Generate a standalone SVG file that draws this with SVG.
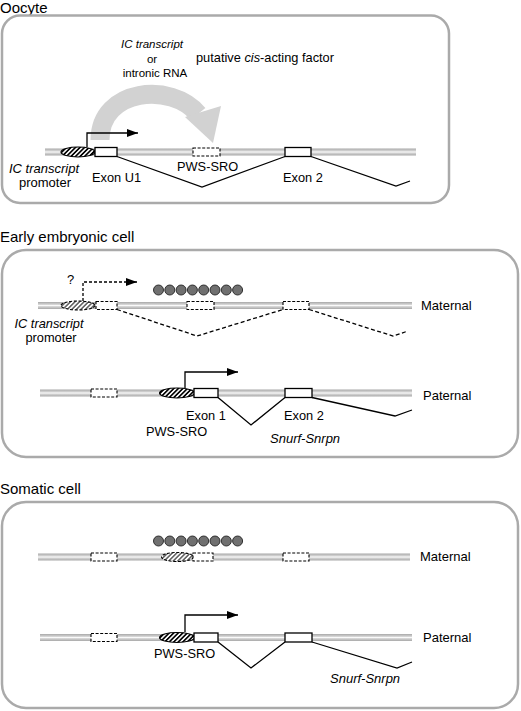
<svg xmlns="http://www.w3.org/2000/svg" width="521" height="711" viewBox="0 0 521 711">
<style>
text{font-family:"Liberation Sans",Arial,sans-serif;fill:#000}
.title{font-size:15px}
.lbl{font-size:12.8px}
.sm{font-size:11.5px}
.it{font-style:italic}
.panel{fill:#fff;stroke:#aaa;stroke-width:2.5}
.bar{fill:url(#barg)}
.exon{fill:#fff;stroke:#000;stroke-width:1.3}
.dbox{fill:#fff;stroke:#000;stroke-width:1.1;stroke-dasharray:3,1.6}
.hat{fill:url(#hatch);stroke:#000;stroke-width:1.2}
.dhat{fill:url(#hatch2);stroke:#000;stroke-width:1.1;stroke-dasharray:3,1.6}
.splice{fill:none;stroke:#000;stroke-width:1.3}
.dsplice{fill:none;stroke:#000;stroke-width:1.3;stroke-dasharray:4,2.5}
.tss{fill:none;stroke:#000;stroke-width:1.3;marker-end:url(#ah)}
.dtss{fill:none;stroke:#000;stroke-width:1.3;stroke-dasharray:3,2;marker-end:url(#ah)}
.met{fill:#707070;stroke:#222;stroke-width:0.9}
</style>
<defs>
<linearGradient id="barg" x1="0" y1="0" x2="0" y2="1">
<stop offset="0" stop-color="#a8a8a8"/>
<stop offset="0.35" stop-color="#d4d4d4"/>
<stop offset="0.5" stop-color="#fafafa"/>
<stop offset="0.65" stop-color="#d4d4d4"/>
<stop offset="1" stop-color="#a8a8a8"/>
</linearGradient>
<pattern id="hatch" patternUnits="userSpaceOnUse" width="3.2" height="3.2" patternTransform="rotate(45)">
<rect width="3.2" height="3.2" fill="#fff"/>
<line x1="0.8" y1="0" x2="0.8" y2="3.2" stroke="#000" stroke-width="1.7"/>
</pattern>
<pattern id="hatch2" patternUnits="userSpaceOnUse" width="3.2" height="3.2" patternTransform="rotate(45)">
<rect width="3.2" height="3.2" fill="#fff"/>
<line x1="0.8" y1="0" x2="0.8" y2="3.2" stroke="#333" stroke-width="1.2"/>
</pattern>
<marker id="ah" markerUnits="userSpaceOnUse" markerWidth="12" markerHeight="9" refX="11" refY="4" orient="auto">
<path d="M0,0 L11,4 L0,8 z" fill="#000"/>
</marker>
</defs>

<!-- Oocyte -->
<text class="title" x="0" y="13">Oocyte</text>
<g id="oocyte-panel">
<rect class="panel" x="2" y="15.5" width="447" height="187.5" rx="18"/>
</g>
<g id="oocyte-factor">
<path d="M100,140 C100,88 172,82 198,114" fill="none" stroke="#d2d2d2" stroke-width="19"/>
<polygon points="185,117 221,106 213,143" fill="#d2d2d2"/>
<text class="sm it" x="152" y="48" text-anchor="middle">IC transcript</text>
<text class="sm" x="152" y="63" text-anchor="middle">or</text>
<text class="sm" x="155" y="77" text-anchor="middle">intronic RNA</text>
<text x="196" y="62" style="font-size:12.8px">putative <tspan font-style="italic">cis</tspan>-acting factor</text>
</g>
<g id="oocyte-chromosome">
<rect class="bar" x="45" y="148.5" width="371" height="7"/>
</g>
<g id="oocyte-promoter">
<ellipse class="hat" cx="78" cy="152" rx="17" ry="5"/>
<text class="lbl it" x="44" y="173" text-anchor="middle" style="font-size:13px">IC transcript</text>
<text class="lbl" x="45" y="187" text-anchor="middle" style="font-size:13px">promoter</text>
</g>
<g id="oocyte-exonU1">
<rect class="exon" x="95" y="147.5" width="22" height="9"/>
<text class="lbl" x="92" y="182">Exon U1</text>
</g>
<g id="oocyte-pwssro">
<rect class="dbox" x="193" y="148" width="27" height="8"/>
<text class="lbl" x="177" y="171">PWS-SRO</text>
</g>
<g id="oocyte-exon2">
<rect class="exon" x="285" y="147.5" width="26" height="9"/>
<text class="lbl" x="283" y="182">Exon 2</text>
</g>

<!-- Early embryonic cell -->
<text class="title" x="0" y="242">Early embryonic cell</text>
<g id="early-panel">
<rect class="panel" x="2" y="250" width="516" height="207" rx="24"/>
</g>
<g id="early-maternal">
<rect class="bar" x="38" y="302" width="374" height="7"/>
<text class="lbl" x="421" y="310" style="font-size:13px">Maternal</text>
</g>
<g id="early-mat-promoter">
<ellipse class="dhat" cx="78" cy="305.5" rx="17" ry="4.5"/>
<text class="lbl" x="67" y="284" style="font-size:13px">?</text>
<text class="lbl it" x="49" y="328" text-anchor="middle" style="font-size:12.8px">IC transcript</text>
<text class="lbl" x="51" y="342" text-anchor="middle" style="font-size:12.8px">promoter</text>
</g>
<g id="early-mat-exonU1"><rect class="dbox" x="96" y="301.5" width="21" height="8"/></g>
<g id="early-mat-pwssro"><rect class="dbox" x="187" y="301.5" width="27" height="8"/></g>
<g id="early-mat-exon2"><rect class="dbox" x="283" y="301.5" width="26" height="8"/></g>
<g id="early-methylation">
<circle class="met" cx="158.5" cy="290" r="5"/>
<circle class="met" cx="169.8" cy="290" r="5"/>
<circle class="met" cx="181.1" cy="290" r="5"/>
<circle class="met" cx="192.4" cy="290" r="5"/>
<circle class="met" cx="203.7" cy="290" r="5"/>
<circle class="met" cx="215" cy="290" r="5"/>
<circle class="met" cx="226.3" cy="290" r="5"/>
<circle class="met" cx="237.6" cy="290" r="5"/>
</g>
<g id="early-paternal">
<rect class="bar" x="40" y="389.5" width="372" height="7"/>
<text class="lbl" x="423" y="400" style="font-size:13px">Paternal</text>
</g>
<g id="early-pat-exonU1"><rect class="dbox" x="91" y="389" width="26" height="8"/></g>
<g id="early-pat-pwssro">
<ellipse class="hat" cx="177" cy="393" rx="17.5" ry="5"/>
<text class="lbl" x="146" y="436">PWS-SRO</text>
</g>
<g id="early-pat-exon1">
<rect class="exon" x="194" y="388.5" width="24" height="9"/>
<text class="lbl" x="186" y="420">Exon 1</text>
</g>
<g id="early-pat-exon2">
<rect class="exon" x="285" y="388.5" width="27" height="9"/>
<text class="lbl" x="284" y="420">Exon 2</text>
</g>
<text class="lbl it" x="270" y="443" style="font-size:13px">Snurf-Snrpn</text>

<!-- Somatic cell -->
<text class="title" x="0" y="494">Somatic cell</text>
<g id="somatic-panel">
<rect class="panel" x="2" y="502" width="516" height="206" rx="24"/>
</g>
<g id="som-maternal">
<rect class="bar" x="38" y="553.5" width="372" height="7"/>
<text class="lbl" x="420" y="561" style="font-size:13px">Maternal</text>
</g>
<g id="som-mat-exonU1"><rect class="dbox" x="91" y="553" width="26" height="8"/></g>
<g id="som-mat-pwssro"><ellipse class="dhat" cx="177.5" cy="557" rx="16" ry="4.5"/></g>
<g id="som-mat-exon1"><rect class="dbox" x="193" y="553" width="20" height="8"/></g>
<g id="som-mat-exon2"><rect class="dbox" x="283" y="553" width="26" height="8"/></g>
<g id="som-methylation">
<circle class="met" cx="158.5" cy="541" r="5"/>
<circle class="met" cx="169.8" cy="541" r="5"/>
<circle class="met" cx="181.1" cy="541" r="5"/>
<circle class="met" cx="192.4" cy="541" r="5"/>
<circle class="met" cx="203.7" cy="541" r="5"/>
<circle class="met" cx="215" cy="541" r="5"/>
<circle class="met" cx="226.3" cy="541" r="5"/>
<circle class="met" cx="237.6" cy="541" r="5"/>
</g>
<g id="som-paternal">
<rect class="bar" x="40" y="634" width="372" height="7"/>
<text class="lbl" x="423" y="642" style="font-size:13px">Paternal</text>
</g>
<g id="som-pat-exonU1"><rect class="dbox" x="91" y="633.5" width="26" height="8"/></g>
<g id="som-pat-pwssro">
<ellipse class="hat" cx="177" cy="637.5" rx="17.5" ry="5"/>
<text class="lbl" x="154" y="658">PWS-SRO</text>
</g>
<g id="som-pat-exon1"><rect class="exon" x="194" y="633" width="24" height="9"/></g>
<g id="som-pat-exon2"><rect class="exon" x="285" y="633" width="27" height="9"/></g>
<text class="lbl it" x="330" y="683" style="font-size:13px">Snurf-Snrpn</text>

<!-- Connectors -->
<g id="connectors">
<path class="tss" d="M87,147 V133 H138"/>
<polyline class="splice" points="117,156.5 202,187 285,156.5"/>
<polyline class="splice" points="311,156.5 396,186 410,181"/>
<path class="dtss" d="M83,301 V282 H137"/>
<polyline class="dsplice" points="117,309.5 197,336 283,309.5"/>
<polyline class="dsplice" points="309,309.5 393,336 408,331"/>
<path class="tss" d="M185,388 V372 H238"/>
<polyline class="splice" points="218,397.5 251,425 285,397.5"/>
<polyline class="splice" points="312,397.5 395,416 412,410"/>
<path class="tss" d="M185,632 V615 H238"/>
<polyline class="splice" points="218,642 251,668 285,642"/>
<polyline class="splice" points="312,642 397,668 412,662"/>
</g>
</svg>
